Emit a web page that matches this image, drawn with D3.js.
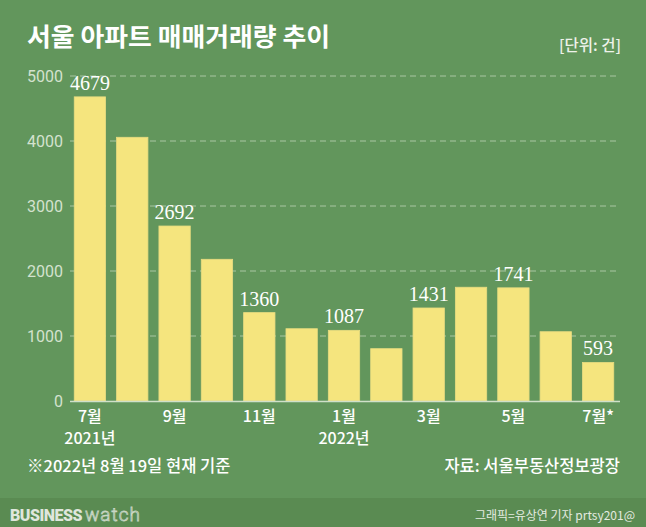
<!DOCTYPE html>
<html><head><meta charset="utf-8">
<script src="https://cdn.jsdelivr.net/npm/d3@7"></script>
<style>body{margin:0;background:#62965c;}svg{display:block;}</style>
</head><body>
<script>
const months = ["7월","8월","9월","10월","11월","12월","1월","2월","3월","4월","5월","6월","7월*"];
const tickLabels = ["7월","","9월","","11월","","1월","","3월","","5월","","7월*"];
const yearLabels = ["2021년","","","","","","2022년","","","","","",""];
const values = [4679, 4057, 2692, 2180, 1360, 1112, 1087, 805, 1431, 1750, 1741, 1066, 593];
const shownLabels = [true,false,true,false,true,false,true,false,true,false,true,false,true];
const yTicks = [0,1000,2000,3000,4000,5000];

const W=646,H=527;
const svg=d3.select("body").append("svg").attr("width",W).attr("height",H);
svg.append("rect").attr("width",W).attr("height",H).attr("fill","#62965c");
svg.append("rect").attr("y",498).attr("width",W).attr("height",H-498).attr("fill","#5a8b52");

const font="'Noto Sans CJK KR','Noto Sans',sans-serif";
const x=d3.scaleBand().domain(d3.range(months.length)).range([70,618]).paddingInner(0.26).paddingOuter(0.1);
const y=d3.scaleLinear().domain([0,5000]).range([401,76]);

// title
svg.append("text").attr("x",27).attr("y",46).attr("fill","#fff").attr("font-family",font)
  .attr("font-weight",700).attr("font-size",25).attr("textLength",303).attr("lengthAdjust","spacingAndGlyphs")
  .text("서울 아파트 매매거래량 추이");
svg.append("text").attr("x",621).attr("y",51).attr("text-anchor","end").attr("fill","#eef2ea")
  .attr("font-family",font).attr("font-weight",500).attr("font-size",15.5).text("[단위: 건]");

// grid
const g=svg.append("g");
g.selectAll("line.grid").data(yTicks.filter(d=>d>0)).join("line")
  .attr("x1",70).attr("x2",616).attr("y1",d=>y(d)).attr("y2",d=>y(d))
  .attr("stroke","#a9c6a2").attr("stroke-width",1).attr("stroke-dasharray","6,4");

// y axis labels
const yAxis=d3.axisLeft(y).tickValues(yTicks).tickSize(0).tickPadding(0).tickFormat(d3.format("d"));
const ya=svg.append("g").attr("transform","translate(63,0)").call(yAxis);
ya.select(".domain").remove();
ya.selectAll("text").attr("fill","#d4e2cf").attr("font-family","Roboto,'Noto Sans',sans-serif").attr("font-size",16);

// bars
svg.selectAll("rect.bar").data(values).join("rect")
  .attr("x",(d,i)=>x(i)).attr("width",x.bandwidth())
  .attr("y",d=>y(d)).attr("height",d=>y(0)-y(d))
  .attr("fill","#f5e57e").attr("stroke","#e8dc80").attr("stroke-width",0.8);

// baseline
svg.append("line").attr("x1",70).attr("x2",620).attr("y1",y(0)+0.5).attr("y2",y(0)+0.5)
  .attr("stroke","#cfe0c9").attr("stroke-width",1.5);

// value labels
svg.selectAll("text.val").data(values.map((v,i)=>({v,i})).filter(d=>shownLabels[d.i])).join("text")
  .attr("x",d=>x(d.i)+x.bandwidth()/2).attr("y",d=>y(d.v)-7).attr("text-anchor","middle")
  .attr("fill","#fff").attr("font-family","'Liberation Serif','DejaVu Serif',serif").attr("font-size",20)
  .text(d=>d.v);

// x labels
const xa=svg.append("g");
xa.selectAll("text.m").data(tickLabels).join("text")
  .attr("x",(d,i)=>x(i)+x.bandwidth()/2).attr("y",422).attr("text-anchor","middle")
  .attr("fill","#fff").attr("font-family",font).attr("font-weight",500).attr("font-size",16).text(d=>d);
xa.selectAll("text.yr").data(yearLabels).join("text")
  .attr("x",(d,i)=>x(i)+x.bandwidth()/2).attr("y",444).attr("text-anchor","middle")
  .attr("fill","#fff").attr("font-family",font).attr("font-weight",500).attr("font-size",16).text(d=>d);

// footnotes
svg.append("text").attr("x",27).attr("y",472).attr("fill","#fff").attr("font-family",font)
  .attr("font-weight",500).attr("font-size",16.5).text("※2022년 8월 19일 현재 기준");
svg.append("text").attr("x",620).attr("y",472).attr("text-anchor","end").attr("fill","#fff").attr("font-family",font)
  .attr("font-weight",500).attr("font-size",16.5).text("자료: 서울부동산정보광장");

// footer
const ft=svg.append("text").attr("x",10).attr("y",521).attr("font-family","Roboto,sans-serif").attr("font-size",16);
ft.append("tspan").attr("fill","#dfe6dc").attr("font-weight",900).attr("letter-spacing",-0.5).text("BUSINESS");
ft.append("tspan").attr("fill","none").attr("stroke","#c9d6c5").attr("stroke-width",0.8).attr("font-weight",300).attr("font-size",19).attr("dx",3).attr("letter-spacing",1).text("watch");
svg.append("text").attr("x",635).attr("y",520).attr("text-anchor","end").attr("fill","#e4eae0")
  .attr("font-family",font).attr("font-size",12).text("그래픽=유상연 기자 prtsy201@");
</script>
</body></html>
